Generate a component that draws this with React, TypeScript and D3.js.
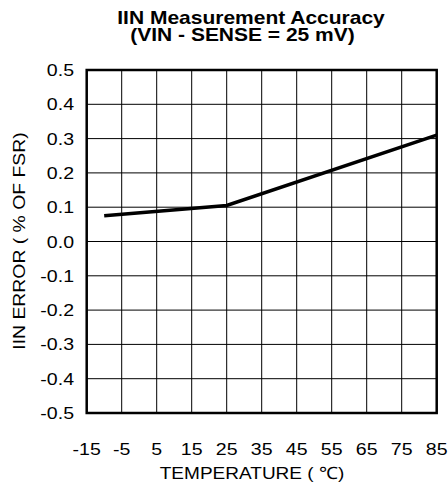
import React from 'react';
import * as d3 from 'd3';

const temps = [-10, 25, 85];
const errors = [0.075, 0.105, 0.31];
const xTicks = [-15, -5, 5, 15, 25, 35, 45, 55, 65, 75, 85];
const yTicks = [0.5, 0.4, 0.3, 0.2, 0.1, 0.0, -0.1, -0.2, -0.3, -0.4, -0.5];
const titleLines = ['IIN Measurement Accuracy', '(VIN - SENSE = 25 mV)'];
const xLabel = 'TEMPERATURE ( \u2103)';
const yLabel = 'IIN ERROR ( % OF FSR)';

const W = 448,
	H = 485,
	left = 86.7,
	right = 436.7,
	top = 70,
	bottom = 413;

// text drawn a little wider than the font, like the reference
const Label = ( { x, y, rotate = 0, sx = 1.15, anchor = 'middle', size = 17, bold = false, children } ) => (
	<g transform={`translate(${x} ${y}) rotate(${rotate}) scale(${sx} 1)`}>
		<text textAnchor={anchor} fontSize={size} fontWeight={bold ? 'bold' : 'normal'} fill="#000">
			{children}
		</text>
	</g>
);

const App = () => {
	const x = d3.scaleLinear().domain( [ -15, 85 ] ).range( [ left, right ] ),
		y = d3.scaleLinear().domain( [ -0.5, 0.5 ] ).range( [ bottom, top ] ),
		line = d3
			.line<number>()
			.x( ( d, i ) => x( temps[ i ] ) )
			.y( ( d ) => y( d ) ),
		fmt = ( v ) => d3.format( '.1f' )( v ).replace( '\u2212', '-' );

	return (
		<svg width={W} height={H} style={{ position: 'absolute', left: 0, top: 0 }} fontFamily="Liberation Sans, Arial, sans-serif">
			<rect width={W} height={H} fill="#fff" />
			<Label x={251} y={23.5} size={17.5} sx={1.2} bold>{titleLines[ 0 ]}</Label>
			<Label x={242.5} y={41} size={17.5} sx={1.2} bold>{titleLines[ 1 ]}</Label>
			{xTicks.map( ( t ) => (
				<line key={'gx' + t} x1={x( t )} x2={x( t )} y1={top} y2={bottom} stroke="#000" strokeWidth={1} />
			) )}
			{yTicks.map( ( t ) => (
				<line key={'gy' + t} x1={left} x2={right} y1={y( t )} y2={y( t )} stroke="#000" strokeWidth={1} />
			) )}
			<rect x={left} y={top} width={right - left} height={bottom - top} fill="none" stroke="#000" strokeWidth={2.5} />
			<path d={line( errors ) || ''} fill="none" stroke="#000" strokeWidth={3.5} />
			{yTicks.map( ( t ) => (
				<Label key={'ty' + t} x={74} y={y( t ) + 6} anchor="end">{fmt( t )}</Label>
			) )}
			{xTicks.map( ( t ) => (
				<Label key={'tx' + t} x={x( t )} y={455}>{String( t )}</Label>
			) )}
			<Label x={252} y={479} sx={1.12}>{xLabel}</Label>
			<Label x={25} y={241} rotate={-90} sx={1.14}>{yLabel}</Label>
		</svg>
	);
};

export default App;
